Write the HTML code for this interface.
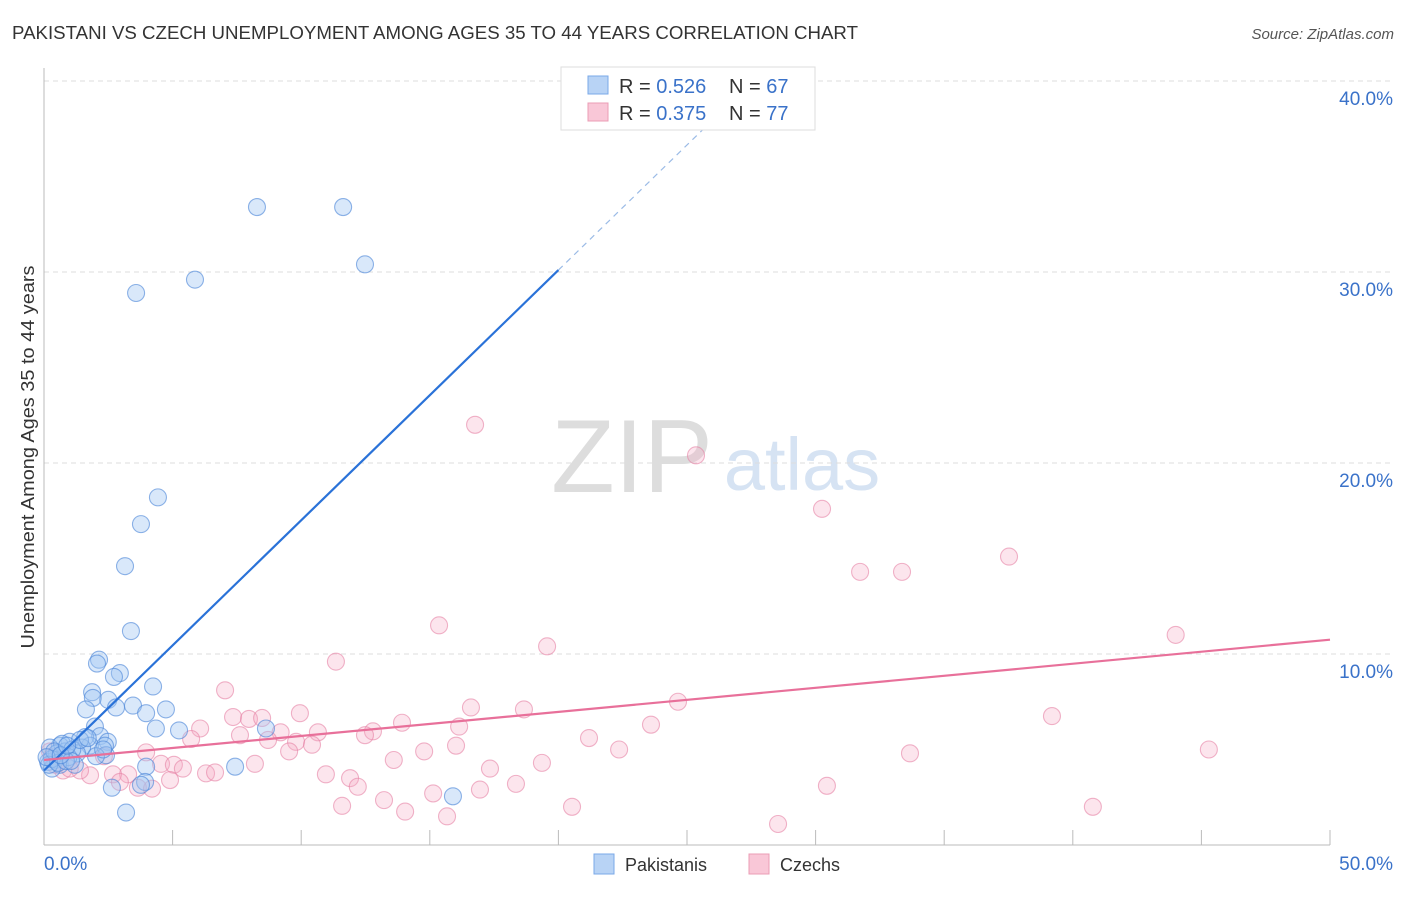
<!DOCTYPE html>
<html><head><meta charset="utf-8"><style>
body{margin:0;background:#fff;font-family:"Liberation Sans",sans-serif}
svg text{font-family:"Liberation Sans",sans-serif}
</style></head><body>
<svg id="chart" width="1406" height="892" xmlns="http://www.w3.org/2000/svg">
<text x="12" y="39" font-size="18" textLength="846" lengthAdjust="spacingAndGlyphs" fill="#333">PAKISTANI VS CZECH UNEMPLOYMENT AMONG AGES 35 TO 44 YEARS CORRELATION CHART</text>
<text x="1394" y="39" font-size="15" font-style="italic" fill="#555" text-anchor="end">Source: ZipAtlas.com</text>
<g>
<text x="632" y="492" font-size="104" font-family="Liberation Serif" fill="#ddd" text-anchor="middle">ZIP</text>
<text x="802" y="490" font-size="74" fill="#d6e3f3" text-anchor="middle">atlas</text>
</g>
<g id="grid"></g>
<g id="axes"></g>
<g id="pts"></g>
<g id="trends"></g>
<text transform="translate(34,457) rotate(-90)" font-size="18" textLength="383" lengthAdjust="spacingAndGlyphs" fill="#333" text-anchor="middle">Unemployment Among Ages 35 to 44 years</text>
<g>
<rect x="561" y="67" width="254" height="63" fill="#fff" stroke="#ddd"/>
<rect x="588" y="76" width="20" height="18" fill="#b8d3f5" stroke="#7aa8e8"/>
<rect x="588" y="103" width="20" height="18" fill="#f9c7d7" stroke="#eb9cb5"/>
<text x="619" y="93" font-size="20" fill="#333">R = <tspan fill="#3a72c9">0.526</tspan></text>
<text x="729" y="93" font-size="20" fill="#333">N = <tspan fill="#3a72c9">67</tspan></text>
<text x="619" y="120" font-size="20" fill="#333">R = <tspan fill="#3a72c9">0.375</tspan></text>
<text x="729" y="120" font-size="20" fill="#333">N = <tspan fill="#3a72c9">77</tspan></text>
</g>
<g>
<rect x="594" y="854" width="20" height="20" fill="#b8d3f5" stroke="#7aa8e8"/>
<text x="625" y="871" font-size="18" fill="#333">Pakistanis</text>
<rect x="749" y="854" width="20" height="20" fill="#f9c7d7" stroke="#eb9cb5"/>
<text x="780" y="871" font-size="18" fill="#333">Czechs</text>
</g>
</svg>
<script>
const blueX=[8.28,11.63,12.48,5.87,3.58,4.43,3.77,3.15,3.38,2.14,2.06,2.95,2.72,4.24,1.87,1.9,2.5,1.63,2.8,3.46,4.74,3.97,4.35,5.25,1.98,8.63,2.18,1.6,2.48,1.0,1.79,2.37,0.62,1.48,0.82,0.23,2.41,1.28,2.02,0.43,0.16,0.62,0.31,1.2,7.43,3.97,3.93,3.77,2.64,15.9,3.19,0.7,0.95,1.1,0.5,0.3,1.4,0.2,0.55,0.85,1.7,2.3,0.4,0.1,1.05,0.65,0.9];
const blueY=[33.4,33.4,30.4,29.6,28.9,18.2,16.8,14.6,11.2,9.7,9.5,9.0,8.8,8.3,8.0,7.7,7.6,7.1,7.2,7.3,7.1,6.9,6.1,6.0,6.2,6.1,5.7,5.65,5.4,5.4,5.2,5.2,5.2,5.1,4.9,5.1,4.7,4.8,4.65,4.45,4.35,4.2,4.0,4.2,4.1,4.1,3.3,3.15,3.0,2.55,1.7,5.3,4.6,5.0,4.8,4.5,5.5,4.2,4.3,4.4,5.6,5.0,4.9,4.6,4.4,4.7,5.2];
const pinkX=[16.76,25.35,30.25,31.73,33.36,37.52,44.0,15.36,19.56,11.35,7.04,24.65,16.6,18.66,39.19,7.35,7.97,8.48,9.95,13.92,16.14,23.6,6.07,9.2,10.65,12.79,12.48,7.62,21.19,5.72,9.8,10.42,16.02,8.71,9.53,14.78,22.36,33.67,45.29,3.97,2.33,13.6,8.2,19.36,4.55,5.05,5.4,17.34,10.96,6.3,6.65,3.27,2.68,1.79,1.4,0.74,11.9,4.9,12.2,18.35,16.95,3.65,4.2,15.13,13.22,30.44,11.59,20.53,14.04,15.67,28.54,40.78,0.23,0.43,1.0,2.95,0.3];
const pinkY=[22.0,20.4,17.6,14.3,14.3,15.1,11.0,11.5,10.4,9.6,8.1,7.5,7.2,7.1,6.75,6.7,6.6,6.65,6.9,6.4,6.2,6.3,6.1,5.9,5.9,5.95,5.75,5.75,5.6,5.55,5.4,5.25,5.2,5.5,4.9,4.9,5.0,4.8,5.0,4.85,4.65,4.45,4.25,4.3,4.25,4.2,4.0,4.0,3.7,3.75,3.8,3.7,3.7,3.65,3.9,3.9,3.5,3.4,3.05,3.2,2.9,3.0,2.95,2.7,2.35,3.1,2.05,2.0,1.75,1.5,1.1,2.0,4.9,4.2,4.0,3.3,4.6];
const yTicks=[10,20,30,40];
const yTickLabels=["10.0%","20.0%","30.0%","40.0%"];
const xTickVals=[0,5,10,15,20,25,30,35,40,45,50];
const xEndLabels=["0.0%","50.0%"];
const blueTrend=[3.9,30.1]; // y at x=0 and x=20
const pinkTrend=[4.45,10.75]; // y at x=0 and x=50
const NS="http://www.w3.org/2000/svg";
const sx=v=>44+v*25.72, sy=v=>845-v*19.1;
function mk(tag,attrs,parent){const e=document.createElementNS(NS,tag);for(const k in attrs)e.setAttribute(k,attrs[k]);parent.appendChild(e);return e;}
const grid=document.getElementById('grid'),axes=document.getElementById('axes'),pts=document.getElementById('pts'),tr=document.getElementById('trends');
yTicks.forEach((t,i)=>{
 const l=mk('line',{x1:44,x2:1394,y1:sy(t),y2:sy(t),stroke:'#ddd','stroke-dasharray':'5,4'},grid);
 
 
 const tx=mk('text',{x:1393,y:sy(t)+24,'font-size':19,fill:'#3a72c9','text-anchor':'end'},grid);
 tx.textContent=yTickLabels[i];
 
 
});
let a=mk('line',{x1:44,x2:44,y1:68,y2:845,stroke:'#bbb'},axes);


a=mk('line',{x1:44,x2:1330,y1:845,y2:845,stroke:'#bbb'},axes);


xTickVals.forEach(v=>{if(v===0)return;
 const t=mk('line',{x1:sx(v),x2:sx(v),y1:830,y2:845,stroke:'#bbb'},axes);
 
 
});
[[0,'start'],[50,'end']].forEach((p,i)=>{
 const t=mk('text',{x:i?1393:44,y:870,'font-size':19,fill:'#3a72c9','text-anchor':p[1]},axes);
 t.textContent=xEndLabels[i];
 
 
});
pinkX.forEach((x,i)=>{
 const c=mk('circle',{cx:sx(x),cy:sy(pinkY[i]),r:8.5,fill:'rgba(244,170,195,0.3)',stroke:'rgba(230,130,165,0.6)','stroke-width':1.1},pts);
 
 
});
blueX.forEach((x,i)=>{
 const c=mk('circle',{cx:sx(x),cy:sy(blueY[i]),r:8.5,fill:'rgba(160,198,242,0.4)',stroke:'rgba(70,130,215,0.6)','stroke-width':1.1},pts);
 
 
});
const bs=(blueTrend[1]-blueTrend[0])/20;
let l=mk('line',{x1:sx(0),y1:sy(blueTrend[0]),x2:sx(20),y2:sy(blueTrend[1]),stroke:'#2a72d8','stroke-width':2.2},tr);


l=mk('line',{x1:sx(20),y1:sy(blueTrend[1]),x2:sx(26.3),y2:sy(blueTrend[0]+bs*26.3),stroke:'#9bbbe6','stroke-width':1.2,'stroke-dasharray':'6,5'},tr);


l=mk('line',{x1:sx(0),y1:sy(pinkTrend[0]),x2:sx(50),y2:sy(pinkTrend[1]),stroke:'#e8709a','stroke-width':2.2},tr);


</script>
</body></html>
